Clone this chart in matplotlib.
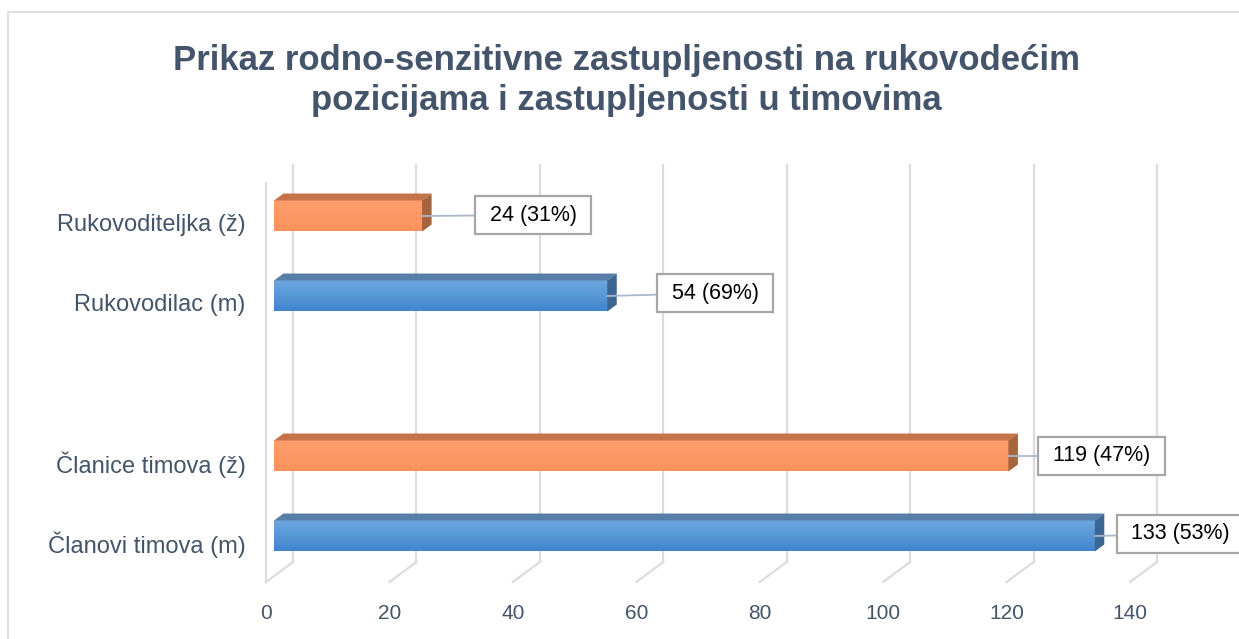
import numpy as np
import matplotlib
matplotlib.use("Agg")
import matplotlib.pyplot as plt
from matplotlib.patches import Polygon, Rectangle

# data (bottom to top, blank slot between the two groups)
categories = ["Članovi timova (m)", "Članice timova (ž)", "", "Rukovodilac (m)", "Rukovoditeljka (ž)"]
values = [133, 119, None, 54, 24]
percents = [53, 47, None, 69, 31]
gender = ["m", "z", None, "m", "z"]
xticks = [0, 20, 40, 60, 80, 100, 120, 140]

title1 = "Prikaz rodno-senzitivne zastupljenosti na rukovodećim"
title2 = "pozicijama i zastupljenosti u timovima"

# label box offsets from bar end, in pixels
label_off = [(86, 2), (93, 0), None, (108, 3), (111, 1)]

# colours: front top, front bottom, top face, side face
colors = {
    "m": ("#6EA8E1", "#3F86CD", "#587EA8", "#3C6793"),
    "z": ("#FF9E6C", "#FC935E", "#C4744A", "#A6643E"),
}
text_col = "#44546A"
grid_col = "#D9DCE2"

W, H = 1239, 639
fig = plt.figure(figsize=(W / 100, H / 100), dpi=100)

# front plane of the plot: x=0 at px 266, x=140 at px 1130, floor at py 582, top py 183
ax = fig.add_axes([266 / W, (H - 582) / H, 864 / W, (582 - 183) / H])
ylo, yhi = -0.5, 4.4875
ax.set_xlim(0, 140)
ax.set_ylim(ylo, yhi)
ax.patch.set_alpha(0)
for s in ax.spines.values():
    s.set_visible(False)

PX_X = 140 / 864
PX_Y = (yhi - ylo) / 399

back_dx, back_dy = 27 * PX_X, 20 * PX_Y
bar_dx, bar_dy = 8 * PX_X, 6 * PX_Y
dep_dx, dep_dy = 9.5 * PX_X, 7 * PX_Y
bar_h = 0.3875

# walls / grid
ax.plot([0, 0], [ylo, yhi], color=grid_col, lw=1.6, zorder=1, clip_on=False)
for t in xticks:
    ax.plot([t + back_dx, t + back_dx], [ylo + back_dy, yhi + back_dy - 2 * PX_Y], color=grid_col, lw=1.6, zorder=1, clip_on=False)
    ax.plot([t, t + back_dx], [ylo, ylo + back_dy], color=grid_col, lw=1.6, zorder=1, clip_on=False)

# bars
for i, v in enumerate(values):
    if v is None:
        continue
    c_front_top, c_front_bot, c_top, c_side = colors[gender[i]]
    x0, x1 = bar_dx, v + bar_dx
    y0, y1 = i + bar_dy - bar_h / 2, i + bar_dy + bar_h / 2

    top_rgb = np.array(matplotlib.colors.to_rgb(c_front_top))
    bot_rgb = np.array(matplotlib.colors.to_rgb(c_front_bot))
    tt = np.linspace(0, 1, 64).reshape(-1, 1, 1)
    grad = top_rgb * (1 - tt) + bot_rgb * tt
    ax.imshow(grad, extent=[x0, x1, y0, y1], origin="upper", aspect="auto",
              interpolation="bilinear", zorder=3)

    ax.add_patch(Polygon([(x0, y1), (x1, y1), (x1 + dep_dx, y1 + dep_dy), (x0 + dep_dx, y1 + dep_dy)],
                         closed=True, facecolor=c_top, edgecolor="none", zorder=3))
    ax.add_patch(Polygon([(x1, y0), (x1, y1), (x1 + dep_dx, y1 + dep_dy), (x1 + dep_dx, y0 + dep_dy)],
                         closed=True, facecolor=c_side, edgecolor="none", zorder=3))

    ox, oy = label_off[i]
    ax.annotate(" %d (%d%%) " % (v, percents[i]), xy=(x1, i + bar_dy), xytext=(ox, oy),
                textcoords="offset pixels", ha="center", va="center",
                fontsize=15.5, family="Liberation Sans", color="black",
                bbox=dict(boxstyle="square,pad=0.4", fc="white", ec="#A6A6A6", lw=1.6),
                arrowprops=dict(arrowstyle="-", color="#A9B8CB", lw=1.3, shrinkA=0, shrinkB=0),
                zorder=5, annotation_clip=False)

ax.set_ylim(ylo, yhi)
ax.set_xlim(0, 140)

ax.set_xticks(xticks)
ax.set_xticklabels([str(t) for t in xticks])
ax.set_yticks(range(len(categories)))
ax.set_yticklabels(categories)
ax.tick_params(axis="x", length=0, pad=16, labelsize=15, labelcolor=text_col)
ax.tick_params(axis="y", length=0, pad=14.5, labelsize=17, labelcolor=text_col)
for lab in ax.get_xticklabels() + ax.get_yticklabels():
    lab.set_family("Liberation Sans")

fig.text(626 / W, (H - 70) / H, title1, ha="center", va="baseline", fontsize=25,
         fontweight="bold", color=text_col, family="Liberation Sans")
fig.text(626 / W, (H - 110) / H, title2, ha="center", va="baseline", fontsize=25,
         fontweight="bold", color=text_col, family="Liberation Sans")

fig.add_artist(Rectangle((8 / W, -0.2), 1.5, (H - 12) / H + 0.2, transform=fig.transFigure,
                         fill=False, edgecolor="#D9D9D9", lw=1.2))

fig.savefig("out.png", dpi=100, facecolor="white")
